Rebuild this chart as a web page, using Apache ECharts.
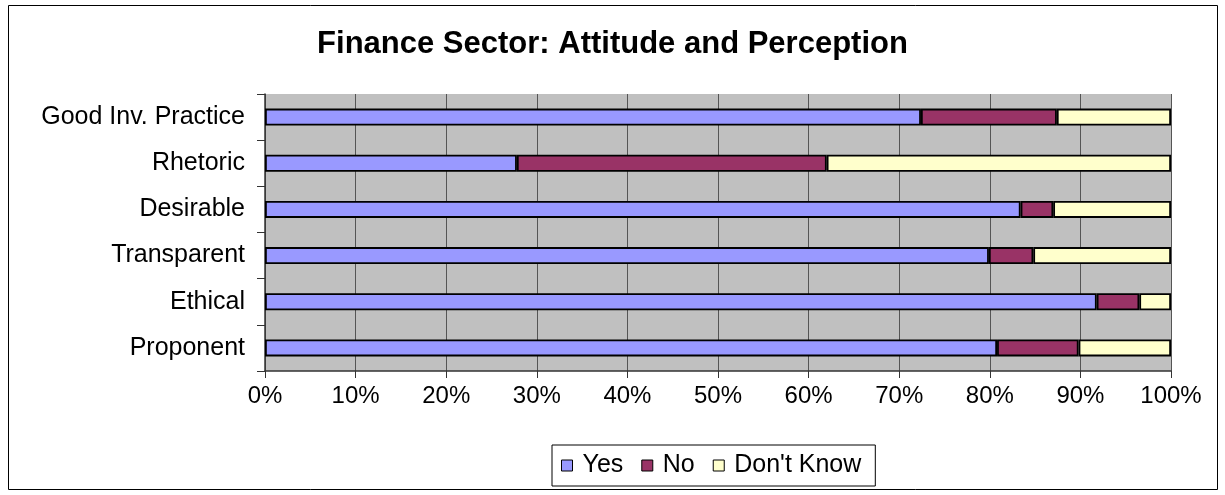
<!DOCTYPE html>
<html>
<head>
<meta charset="utf-8">
<script src="https://cdn.jsdelivr.net/npm/echarts@6/dist/echarts.min.js"></script>
<style>
html,body{margin:0;padding:0;background:#fff;}
#c{width:1225px;height:495px;}
</style>
</head>
<body>
<div id="c"></div>
<script>
const categories = ['Proponent', 'Ethical', 'Transparent', 'Desirable', 'Rhetoric', 'Good Inv. Practice'];
const yesVals = [80.8, 91.8, 79.9, 83.4, 27.8, 72.4];
const noVals = [9.0, 4.7, 4.9, 3.6, 34.2, 15.0];
const dkVals = [10.2, 3.5, 15.2, 13.0, 38.0, 12.6];
const seriesNames = ['Yes', 'No', "Don't Know"];
const seriesColors = ['#9999FF', '#993366', '#FFFFCC'];

const chart = echarts.init(document.getElementById('c'), null, {renderer: 'canvas'});
const font = 'Liberation Sans, Arial, sans-serif';
const dataSets = [yesVals, noVals, dkVals];
chart.setOption({
  animation: false,
  backgroundColor: '#fff',
  title: {
    text: 'Finance Sector: Attitude and Perception',
    left: 'center',
    top: 24,
    textStyle: {fontFamily: font, fontSize: 31, fontWeight: 'bold', color: '#000'}
  },
  graphic: [{
    type: 'rect',
    shape: {x: 8.5, y: 5.5, width: 1209, height: 484},
    style: {fill: 'none', stroke: '#000', lineWidth: 1},
    silent: true, z: -1
  }],
  legend: {
    bottom: 9,
    left: 552,
    data: seriesNames,
    icon: 'rect',
    itemWidth: 11,
    itemHeight: 11,
    itemGap: 18,
    padding: [8, 14, 8, 9],
    borderColor: '#000',
    borderWidth: 1,
    itemStyle: {borderColor: '#000', borderWidth: 1},
    textStyle: {fontFamily: font, fontSize: 25, color: '#000', padding: [0, 0, 0, 5]}
  },
  grid: {left: 265, right: 54, top: 94, bottom: 124, show: true, backgroundColor: '#C0C0C0', borderWidth: 0},
  xAxis: {
    type: 'value',
    min: 0, max: 100, interval: 10,
    axisLine: {show: true, lineStyle: {color: '#333', width: 1.5}},
    axisTick: {show: true, length: 7, lineStyle: {color: '#333'}},
    axisLabel: {formatter: '{value}%', fontFamily: font, fontSize: 24, color: '#000', margin: 13},
    splitLine: {show: true, lineStyle: {color: '#555', width: 1}}
  },
  yAxis: {
    type: 'category',
    data: categories,
    axisLine: {show: true, lineStyle: {color: '#333', width: 1.5}},
    axisTick: {show: true, length: 8, lineStyle: {color: '#333'}},
    axisLabel: {fontFamily: font, fontSize: 25, color: '#000', margin: 20},
    splitLine: {show: false}
  },
  series: seriesNames.map((name, i) => ({
    name: name,
    type: 'bar',
    stack: 'total',
    barWidth: 17,
    data: dataSets[i],
    itemStyle: {color: seriesColors[i], borderColor: '#000', borderWidth: 1.8}
  }))
});
</script>
</body>
</html>
